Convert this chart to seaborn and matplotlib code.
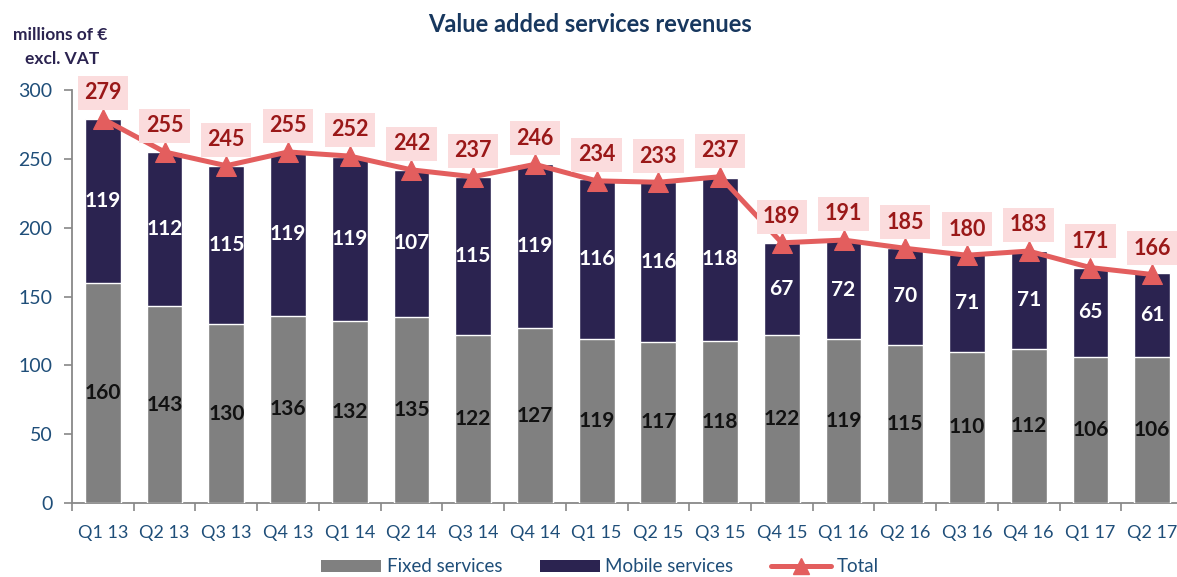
import matplotlib
matplotlib.use("Agg")
import matplotlib.pyplot as plt
from matplotlib.patches import Patch
from matplotlib.lines import Line2D
from matplotlib.ticker import FixedLocator
import seaborn as sns
import pandas as pd

quarters = ["Q1 13", "Q2 13", "Q3 13", "Q4 13", "Q1 14", "Q2 14", "Q3 14", "Q4 14",
            "Q1 15", "Q2 15", "Q3 15", "Q4 15", "Q1 16", "Q2 16", "Q3 16", "Q4 16",
            "Q1 17", "Q2 17"]
fixed = [160, 143, 130, 136, 132, 135, 122, 127, 119, 117, 118, 122, 119, 115, 110, 112, 106, 106]
mobile = [119, 112, 115, 119, 119, 107, 115, 119, 116, 116, 118, 67, 72, 70, 71, 71, 65, 61]
total = [279, 255, 245, 255, 252, 242, 237, 246, 234, 233, 237, 189, 191, 185, 180, 183, 171, 166]

df = pd.DataFrame({"quarter": quarters, "fixed": fixed, "mobile": mobile, "total": total})
df["stack"] = df["fixed"] + df["mobile"]

GRAY = "#808080"
NAVY = "#2B2350"
RED = "#E35E5E"
PINK = "#FBDCDD"
DARKRED = "#9A1818"
BLUE = "#1F4E79"
TITLE = "#17375E"

sns.set_theme(style="white")
plt.rcParams["font.family"] = ["Lato", "DejaVu Sans"]

fig = plt.figure(figsize=(11.77, 5.77), dpi=100)
ax = fig.add_axes([72 / 1177, 74 / 577, 1111 / 1177, 413 / 577])

# stacked bars: full stack in navy, fixed part drawn over it in gray
sns.barplot(data=df, x="quarter", y="stack", color=NAVY, width=0.58,
            saturation=1, ax=ax, zorder=2)
sns.barplot(data=df, x="quarter", y="fixed", color=GRAY, width=0.58,
            saturation=1, ax=ax, zorder=3)

# total line
sns.lineplot(data=df, x="quarter", y="total", color=RED, linewidth=3.6,
             marker="^", markersize=15, markeredgecolor=RED, sort=False,
             ax=ax, zorder=5)

for i, row in df.iterrows():
    ax.text(i, row["fixed"] / 2, f"{row['fixed']}", ha="center", va="center",
            fontsize=15, fontweight="bold", color="#111111", zorder=6)
    ax.text(i, row["fixed"] + row["mobile"] / 2, f"{row['mobile']}", ha="center",
            va="center", fontsize=15, fontweight="bold", color="white", zorder=6)
    ax.text(i, row["total"] + 19, f"{row['total']}", ha="center", va="center",
            fontsize=15.5, fontweight="bold", color=DARKRED, zorder=7,
            bbox=dict(boxstyle="square,pad=0.3", facecolor=PINK, edgecolor="none"))

ax.set_ylim(0, 300)
ax.set_xlim(-0.5, len(quarters) - 0.5)
ax.set_xlabel("")
ax.set_ylabel("")
ax.set_yticks([0, 50, 100, 150, 200, 250, 300])
ax.tick_params(axis="y", labelsize=14, labelcolor=BLUE, color="#888888",
               left=True, length=6, width=1.2, pad=8)
ax.tick_params(axis="x", which="major", labelsize=13, labelcolor=BLUE,
               bottom=False, pad=10)
ax.xaxis.set_minor_locator(FixedLocator([i - 0.5 for i in range(len(quarters) + 1)]))
ax.tick_params(axis="x", which="minor", bottom=True, length=6, width=1.2,
               color="#888888")
for side in ["top", "right"]:
    ax.spines[side].set_visible(False)
for side in ["left", "bottom"]:
    ax.spines[side].set_color("#888888")
    ax.spines[side].set_linewidth(1.3)
ax.grid(False)

fig.text(590 / 1177, 1 - 25 / 577, "Value added services revenues", ha="center",
         va="center", fontsize=17, fontweight="bold", color=TITLE)
fig.text(60 / 1177, 1 - 35 / 577, "millions of €", ha="center", va="center",
         fontsize=12.5, fontweight="bold", color="#2B2350")
fig.text(62 / 1177, 1 - 59 / 577, "excl. VAT", ha="center", va="center",
         fontsize=12.5, fontweight="bold", color="#2B2350")

handles = [Patch(facecolor=GRAY, edgecolor="none", label="Fixed services"),
           Patch(facecolor=NAVY, edgecolor="none", label="Mobile services"),
           Line2D([0], [0], color=RED, linewidth=3.6, marker="^", markersize=11,
                  label="Total")]
leg = fig.legend(handles=handles, loc="center", bbox_to_anchor=(600 / 1177, 1 - 567 / 577),
                 ncol=3, frameon=False, fontsize=13.5, handlelength=3.2,
                 handleheight=0.6, columnspacing=2.0, handletextpad=0.3)
for t in leg.get_texts():
    t.set_color(BLUE)

fig.savefig("out.png", dpi=100)
